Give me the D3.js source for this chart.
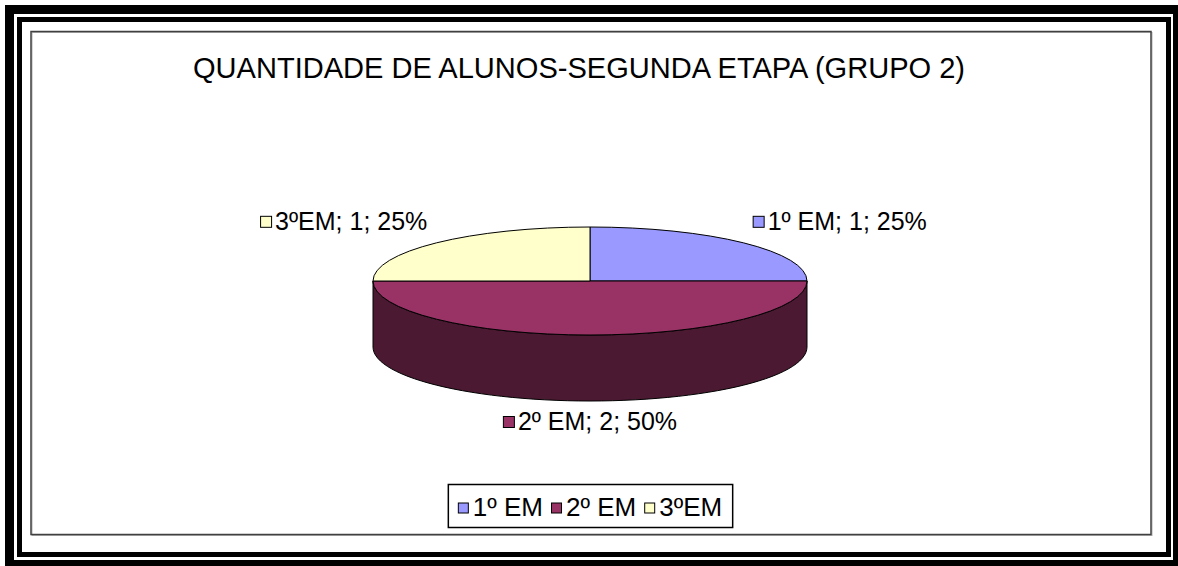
<!DOCTYPE html>
<html>
<head>
<meta charset="utf-8">
<script src="https://cdn.jsdelivr.net/npm/d3@7"></script>
<style>
  body { margin: 0; background: #fff; }
  svg { display: block; }
</style>
</head>
<body>
<div id="chart"></div>
<script>
// dados do grafico
const categorias = ["1º EM", "2º EM", "3ºEM"];
const valores = [1, 2, 1];
const cores = ["#9999FF", "#993366", "#FFFFCC"];
const coresLado = ["#4D4D80", "#4B1A32", "#80805F"];
const titulo = "QUANTIDADE DE ALUNOS-SEGUNDA ETAPA (GRUPO 2)";

const W = 1178, H = 566;
const fonte = "'Liberation Sans', Arial, sans-serif";

const svg = d3.select("#chart").append("svg")
  .attr("width", W).attr("height", H);

// molduras pretas
svg.append("rect").attr("x", 9.5).attr("y", 9.5).attr("width", 1168).attr("height", 555)
  .attr("fill", "none").attr("stroke", "#000").attr("stroke-width", 9);
svg.append("rect").attr("x", 19.5).attr("y", 19.5).attr("width", 1149).attr("height", 535)
  .attr("fill", "none").attr("stroke", "#000").attr("stroke-width", 5);

// area do grafico
svg.append("rect").attr("x", 32).attr("y", 32.5).attr("width", 1120).attr("height", 503)
  .attr("fill", "none").attr("stroke", "#b0b0b0").attr("stroke-width", 1);
svg.append("rect").attr("x", 31).attr("y", 31.5).attr("width", 1120).attr("height", 503)
  .attr("fill", "none").attr("stroke", "#404040").attr("stroke-width", 1.5);

// titulo
svg.append("text")
  .attr("x", 579).attr("y", 78)
  .attr("text-anchor", "middle")
  .style("font-family", fonte)
  .style("font-size", "29px")
  .attr("textLength", 772).attr("lengthAdjust", "spacingAndGlyphs")
  .text(titulo);

// pizza 3D
const cx = 590, cy = 281, rx = 217, ry = 54, depth = 66;
const total = d3.sum(valores);
const pie = d3.pie().sort(null).value(d => d.v);
const arcs = pie(categorias.map((c, i) => ({ c, v: valores[i], i })));

const px = a => cx + rx * Math.sin(a);
const py = a => cy - ry * Math.cos(a);

// lados (parte da frente, entre 90 e 270 graus)
function ladoPath(a0, a1) {
  const s = Math.max(a0, Math.PI / 2), e = Math.min(a1, 3 * Math.PI / 2);
  if (e <= s) return null;
  const passos = d3.range(0, 61).map(k => s + (e - s) * k / 60);
  const topo = passos.map(a => [px(a), py(a)]);
  const base = passos.slice().reverse().map(a => [px(a), py(a) + depth]);
  return "M" + topo.concat(base).map(p => p.join(",")).join("L") + "Z";
}

const gPie = svg.append("g");
arcs.forEach(d => {
  const p = ladoPath(d.startAngle, d.endAngle);
  if (p) gPie.append("path").attr("d", p)
    .attr("fill", coresLado[d.data.i]).attr("stroke", "#000").attr("stroke-width", 1);
});

const arcGen = d3.arc().innerRadius(0).outerRadius(rx);
gPie.append("g")
  .attr("transform", `translate(${cx},${cy}) scale(1,${ry / rx})`)
  .selectAll("path").data(arcs).join("path")
  .attr("d", arcGen)
  .attr("fill", d => cores[d.data.i])
  .attr("stroke", "#000").attr("stroke-width", 1)
  .attr("vector-effect", "non-scaling-stroke");

// rotulos dos dados
const tamRot = 25, quad = 12;
arcs.forEach(d => {
  const m = (d.startAngle + d.endAngle) / 2;
  const c = Math.cos(m), s = Math.sin(m);
  const yMid = cy - ry * c + (c < 0 ? depth : 0) + (c < 0 ? 20 : -22);
  const txt = `${d.data.c}; ${d.data.v}; ${Math.round(d.data.v / total * 100)}%`;
  const g = svg.append("g");
  const t = g.append("text")
    .attr("y", yMid + tamRot * 0.36)
    .style("font-family", fonte).style("font-size", tamRot + "px")
    .text(txt);
  const tw = t.node().getComputedTextLength();
  const largura = quad + 3 + tw;
  let x0;
  if (Math.abs(s) < 0.1) x0 = cx - largura / 2;
  else if (s > 0) x0 = cx + rx * 1.06 * s;
  else x0 = cx + rx * 1.06 * s - largura;
  g.insert("rect", "text")
    .attr("x", x0 + 0.5).attr("y", yMid - quad / 2 + 1.5)
    .attr("width", quad - 1).attr("height", quad - 1)
    .attr("fill", cores[d.data.i]).attr("stroke", "#000").attr("stroke-width", 1);
  t.attr("x", x0 + quad + 3);
});

// legenda
const tamLeg = 26, quadLeg = 10;
const leg = svg.append("g");
let xl = 0;
const itens = categorias.map((c, i) => {
  const t = leg.append("text")
    .style("font-family", fonte).style("font-size", tamLeg + "px").text(c);
  const w = t.node().getComputedTextLength();
  const item = { t, i, x: xl, w };
  xl += quadLeg + 5 + w + 8;
  return item;
});
const larguraLeg = xl - 8 + 20;
const lx0 = cx - larguraLeg / 2, ly0 = 484, lh = 43;
leg.insert("rect", "text")
  .attr("x", lx0 + 0.5).attr("y", ly0 + 0.5)
  .attr("width", larguraLeg).attr("height", lh)
  .attr("fill", "#fff").attr("stroke", "#000").attr("stroke-width", 1.5);
itens.forEach(it => {
  const x = lx0 + 10 + it.x;
  leg.append("rect")
    .attr("x", x + 0.5).attr("y", ly0 + lh / 2 - quadLeg / 2 + 2.5)
    .attr("width", quadLeg).attr("height", quadLeg)
    .attr("fill", cores[it.i]).attr("stroke", "#000").attr("stroke-width", 1);
  it.t.attr("x", x + quadLeg + 5).attr("y", ly0 + lh / 2 + tamLeg * 0.36 + 1);
});
</script>
</body>
</html>
